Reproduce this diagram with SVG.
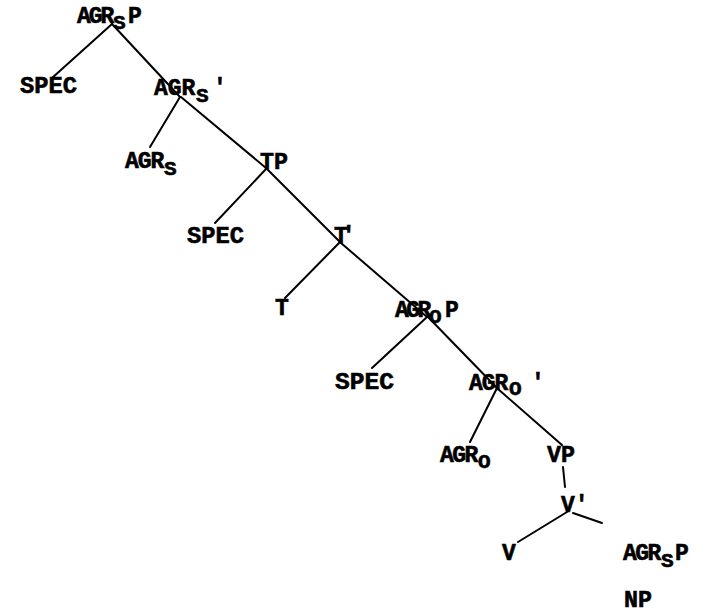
<svg xmlns="http://www.w3.org/2000/svg" width="711" height="614" viewBox="0 0 711 614">
<style>
text{font-family:"Courier New","Liberation Mono",monospace;font-weight:bold;font-size:23px;fill:#000;stroke:#000;stroke-width:0.6}
.sub{font-size:21px;letter-spacing:0}
.edges line{stroke:#000;stroke-width:2;stroke-linecap:round}
</style>
<rect width="711" height="614" fill="#fff"/>
<g class="edges" id="connectors">
<line x1="112" y1="24" x2="52" y2="78"/>
<line x1="112" y1="24" x2="180" y2="97"/>
<line x1="180" y1="97" x2="150" y2="147"/>
<line x1="181" y1="97" x2="266" y2="168"/>
<line x1="266" y1="169" x2="215" y2="223"/>
<line x1="267" y1="169" x2="340" y2="242"/>
<line x1="340" y1="242" x2="285" y2="298"/>
<line x1="341" y1="243" x2="427" y2="317"/>
<line x1="427" y1="317" x2="372" y2="368"/>
<line x1="428" y1="317" x2="497" y2="388"/>
<line x1="497" y1="388" x2="470" y2="442"/>
<line x1="498" y1="389" x2="562" y2="445"/>
<line x1="563" y1="467" x2="565" y2="487"/>
<line x1="567" y1="512" x2="518" y2="542"/>
<line x1="573" y1="513" x2="602" y2="523"/>
</g>
<g id="n-agrsp"><text x="77" y="23" style="letter-spacing:-2px">AGR<tspan class="sub" x="113" y="29">S</tspan><tspan x="128" y="23" style="letter-spacing:0">P</tspan></text></g>
<g id="n-spec1"><text x="20" y="93" textLength="57" lengthAdjust="spacingAndGlyphs">SPEC</text></g>
<g id="n-agrs-bar"><text x="154" y="95">AGR<tspan class="sub" x="196" y="102">S</tspan><tspan x="213" y="95">'</tspan></text></g>
<g id="n-agrs"><text x="125" y="168" style="letter-spacing:-1px">AGR<tspan class="sub" x="164" y="175">S</tspan></text></g>
<g id="n-tp"><text x="260" y="169" textLength="28" lengthAdjust="spacingAndGlyphs">TP</text></g>
<g id="n-spec2"><text x="187" y="243" textLength="57" lengthAdjust="spacingAndGlyphs">SPEC</text></g>
<g id="n-tbar"><text x="334" y="243" style="letter-spacing:-6px">T'</text></g>
<g id="n-t"><text x="275" y="315">T</text></g>
<g id="n-agrop"><text x="395" y="317" style="letter-spacing:-2.5px">AGR<tspan class="sub" x="429" y="323">O</tspan><tspan x="445" y="317" style="letter-spacing:0">P</tspan></text></g>
<g id="n-spec3"><text x="335" y="389" textLength="59" lengthAdjust="spacingAndGlyphs">SPEC</text></g>
<g id="n-agro-bar"><text x="469" y="390" style="letter-spacing:-1px">AGR<tspan class="sub" x="509" y="395">O</tspan><tspan x="531" y="390" style="letter-spacing:0">'</tspan></text></g>
<g id="n-agro"><text x="440" y="462" style="letter-spacing:-1.5px">AGR<tspan class="sub" x="478" y="468">O</tspan></text></g>
<g id="n-vp"><text x="547" y="462" textLength="28" lengthAdjust="spacingAndGlyphs">VP</text></g>
<g id="n-vbar"><text x="561" y="512">V'</text></g>
<g id="n-v"><text x="502" y="560">V</text></g>
<g id="n-agrsp2"><text x="623" y="560" style="letter-spacing:-1.5px">AGR<tspan class="sub" x="661" y="567">S</tspan><tspan x="675" y="560" style="letter-spacing:0">P</tspan></text></g>
<g id="n-np"><text x="624" y="607" textLength="28" lengthAdjust="spacingAndGlyphs">NP</text></g>
</svg>
